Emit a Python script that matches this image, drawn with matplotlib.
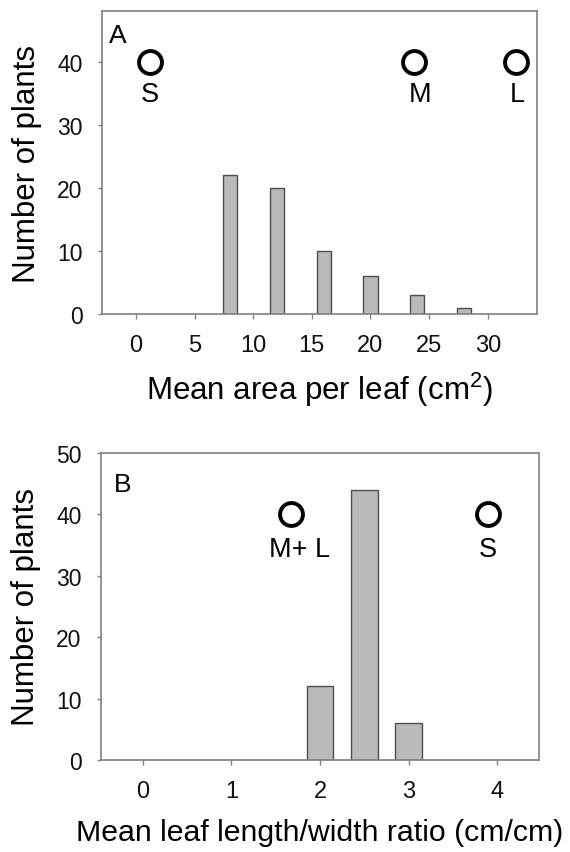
import numpy as np
import matplotlib
matplotlib.use('Agg')
import matplotlib.pyplot as plt

plt.rcParams['font.family'] = ['Liberation Sans', 'DejaVu Sans']

# panel A: mean area per leaf
area_bins = [8, 12, 16, 20, 24, 28]
area_counts = [22, 20, 10, 6, 3, 1]
area_ref_x = [1.17, 23.7, 32.4]
area_ref_y = [40, 40, 40]
area_lab_x = [1.17, 24.2, 32.5]
area_ref_labels = ['S', 'M', 'L']

# panel B: mean leaf length/width ratio
ratio_bins = [2.0, 2.5, 3.0]
ratio_counts = [12, 44, 6]
ratio_ref_x = [1.67, 3.89]
ratio_ref_y = [40, 40]
ratio_lab_x = [1.77, 3.89]
ratio_ref_labels = ['M+ L', 'S']

BAR_FC = '#bababa'
BAR_EC = '#4d4d4d'
SPINE = '#808080'


def style_axes(ax):
    for s in ax.spines.values():
        s.set_color(SPINE)
        s.set_linewidth(1.2)
    ax.tick_params(axis='x', direction='out', length=3.6, width=1, color=SPINE,
                   pad=10.5, labelsize=17, labelcolor='#111111')
    ax.tick_params(axis='y', direction='out', length=3, width=1, color=SPINE,
                   pad=11, labelsize=16.5, labelcolor='#111111')
    ax.tick_params(top=False, right=False)


def add_refs(ax, xs, ys, lab_x, labels, dy):
    ax.plot(xs, ys, 'o', ms=16.5, mfc='none', mec='black', mew=2.8,
            linestyle='none', clip_on=False)
    for x, y, lab in zip(lab_x, ys, labels):
        ax.text(x, y - dy, lab, ha='center', va='center', fontsize=19.5)


fig = plt.figure(figsize=(5.7, 8.53), dpi=100)

axA = fig.add_axes([0.1789, 0.6307, 0.7632, 0.3552])
axA.bar(area_bins, area_counts, width=1.2, color=BAR_FC, edgecolor=BAR_EC,
        linewidth=1.0)
add_refs(axA, area_ref_x, area_ref_y, area_lab_x, area_ref_labels, 5.1)
axA.set_xlim(-2.9, 34.2)
axA.set_ylim(0, 48)
axA.set_xticks([0, 5, 10, 15, 20, 25, 30])
axA.set_yticks([0, 10, 20, 30, 40])
style_axes(axA)
axA.set_xlabel(r'Mean area per leaf (cm$\mathregular{^2}$)', fontsize=22.5, labelpad=10)
axA.set_ylabel('Number of plants', fontsize=22.5, labelpad=11)
axA.text(0.0356, 0.921, 'A', transform=axA.transAxes, ha='center', va='center',
         fontsize=19)

axB = fig.add_axes([0.1772, 0.1079, 0.7684, 0.3599])
axB.bar(ratio_bins, ratio_counts, width=0.3, color=BAR_FC, edgecolor=BAR_EC,
        linewidth=1.0)
add_refs(axB, ratio_ref_x, ratio_ref_y, ratio_lab_x, ratio_ref_labels, 5.6)
axB.set_xlim(-0.47, 4.47)
axB.set_ylim(0, 50)
axB.set_xticks([0, 1, 2, 3, 4])
axB.set_yticks([0, 10, 20, 30, 40, 50])
style_axes(axB)
axB.set_xlabel('Mean leaf length/width ratio (cm/cm)', fontsize=21.8, labelpad=12)
axB.set_ylabel('Number of plants', fontsize=22.5, labelpad=11)
axB.text(0.049, 0.899, 'B', transform=axB.transAxes, ha='center', va='center',
         fontsize=19)

fig.savefig('out.png', dpi=100)
